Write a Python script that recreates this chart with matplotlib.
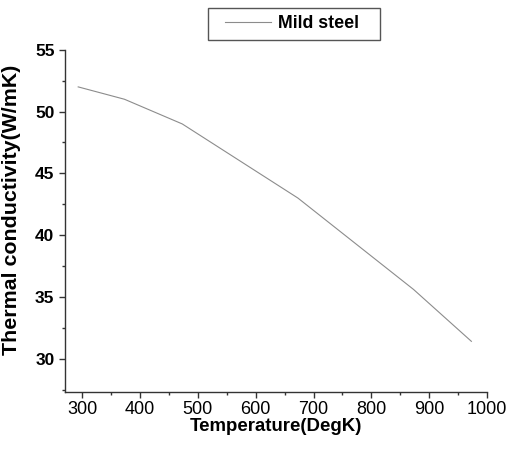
import matplotlib
matplotlib.use('Agg')
import matplotlib.pyplot as plt
from matplotlib.patches import Rectangle
from matplotlib.ticker import MultipleLocator

plt.rcParams['font.family'] = ['Liberation Sans', 'DejaVu Sans']

# Mild steel thermal conductivity vs temperature
temperature = [293, 373, 473, 573, 673, 773, 873, 973]
conductivity = [52.0, 51.0, 49.0, 46.0, 43.0, 39.3, 35.6, 31.4]

W, H = 511, 449
fig = plt.figure(figsize=(W / 100, H / 100), dpi=100)
ax = fig.add_axes([0.127, 0.127, 0.826, 0.762])

line, = ax.plot(temperature, conductivity, color='#8c8c8c', linewidth=0.8, label='Mild steel')

ax.set_xlim(270, 1000)
ax.set_ylim(27.3, 55)
ax.xaxis.set_major_locator(MultipleLocator(100))
ax.xaxis.set_minor_locator(MultipleLocator(50))
ax.yaxis.set_major_locator(MultipleLocator(5))
ax.yaxis.set_minor_locator(MultipleLocator(2.5))

for s in ['top', 'right']:
    ax.spines[s].set_visible(False)
for s in ['left', 'bottom']:
    ax.spines[s].set_color('#333333')
    ax.spines[s].set_linewidth(1.0)

ax.tick_params(which='major', direction='out', length=4.5, width=1.0, colors='#333333', labelcolor='black')
ax.tick_params(which='minor', direction='out', length=2.5, width=1.0, colors='#333333')
ax.tick_params(axis='x', labelsize=13, pad=2)
ax.tick_params(axis='y', labelsize=12.5, pad=3)
for lbl in ax.get_yticklabels():
    lbl.set_fontweight('bold')

ax.set_xlabel('Temperature(DegK)', fontsize=13.4, fontweight='bold', labelpad=0)
ax.set_ylabel('Thermal conductivity(W/mK)', fontsize=15.4, fontweight='bold')
ax.yaxis.set_label_coords(-0.104, 0.532)

# legend above the axes, box drawn separately for wider side padding
fig.legend(handles=[line], loc='center left', bbox_to_anchor=(225 / W, 1 - 24 / H),
           prop={'weight': 'bold', 'size': 12.8}, frameon=False,
           handlelength=2.6, borderpad=0.0, borderaxespad=0.0, handletextpad=0.4)
fig.patches.append(Rectangle((208 / W, 1 - 40 / H), 172 / W, 32 / H,
                             transform=fig.transFigure, fill=False,
                             edgecolor='#555555', linewidth=1.0))

fig.savefig('out.png', dpi=100)
